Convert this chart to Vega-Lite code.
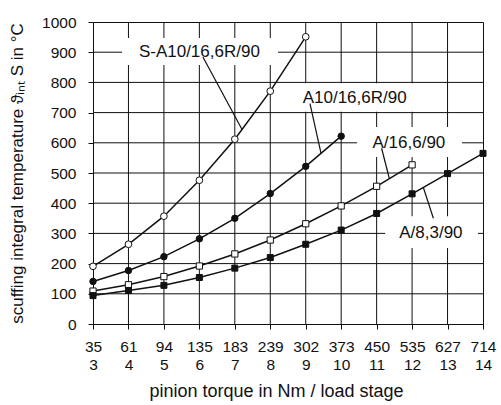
{
  "$schema": "https://vega.github.io/schema/vega-lite/v6.json",
  "width": 390,
  "height": 302,
  "autosize": "none",
  "padding": {"left": 93, "top": 22, "right": 18, "bottom": 81},
  "background": "white",
  "config": {
    "font": "Liberation Sans",
    "view": {"stroke": "#111", "strokeWidth": 1}
  },
  "datasets": {
    "curves": [
      {"series": "S-A10/16,6R/90", "stage": 3, "temp": 191},
      {"series": "S-A10/16,6R/90", "stage": 4, "temp": 264},
      {"series": "S-A10/16,6R/90", "stage": 5, "temp": 357},
      {"series": "S-A10/16,6R/90", "stage": 6, "temp": 476},
      {"series": "S-A10/16,6R/90", "stage": 7, "temp": 612},
      {"series": "S-A10/16,6R/90", "stage": 8, "temp": 771},
      {"series": "S-A10/16,6R/90", "stage": 9, "temp": 951},
      {"series": "A10/16,6R/90", "stage": 3, "temp": 141},
      {"series": "A10/16,6R/90", "stage": 4, "temp": 177},
      {"series": "A10/16,6R/90", "stage": 5, "temp": 223},
      {"series": "A10/16,6R/90", "stage": 6, "temp": 282},
      {"series": "A10/16,6R/90", "stage": 7, "temp": 350},
      {"series": "A10/16,6R/90", "stage": 8, "temp": 432},
      {"series": "A10/16,6R/90", "stage": 9, "temp": 522},
      {"series": "A10/16,6R/90", "stage": 10, "temp": 622},
      {"series": "A/16,6/90", "stage": 3, "temp": 109},
      {"series": "A/16,6/90", "stage": 4, "temp": 130},
      {"series": "A/16,6/90", "stage": 5, "temp": 157},
      {"series": "A/16,6/90", "stage": 6, "temp": 192},
      {"series": "A/16,6/90", "stage": 7, "temp": 232},
      {"series": "A/16,6/90", "stage": 8, "temp": 278},
      {"series": "A/16,6/90", "stage": 9, "temp": 332},
      {"series": "A/16,6/90", "stage": 10, "temp": 391},
      {"series": "A/16,6/90", "stage": 11, "temp": 456},
      {"series": "A/16,6/90", "stage": 12, "temp": 527},
      {"series": "A/8,3/90", "stage": 3, "temp": 94},
      {"series": "A/8,3/90", "stage": 4, "temp": 111},
      {"series": "A/8,3/90", "stage": 5, "temp": 128},
      {"series": "A/8,3/90", "stage": 6, "temp": 154},
      {"series": "A/8,3/90", "stage": 7, "temp": 185},
      {"series": "A/8,3/90", "stage": 8, "temp": 220},
      {"series": "A/8,3/90", "stage": 9, "temp": 264},
      {"series": "A/8,3/90", "stage": 10, "temp": 311},
      {"series": "A/8,3/90", "stage": 11, "temp": 366},
      {"series": "A/8,3/90", "stage": 12, "temp": 431},
      {"series": "A/8,3/90", "stage": 13, "temp": 498},
      {"series": "A/8,3/90", "stage": 14, "temp": 565}
    ],
    "grid": [
      {"stage": 4, "stage2": 4, "temp": 0, "temp2": 1000},
      {"stage": 5, "stage2": 5, "temp": 0, "temp2": 1000},
      {"stage": 6, "stage2": 6, "temp": 0, "temp2": 1000},
      {"stage": 7, "stage2": 7, "temp": 0, "temp2": 1000},
      {"stage": 8, "stage2": 8, "temp": 0, "temp2": 1000},
      {"stage": 9, "stage2": 9, "temp": 0, "temp2": 1000},
      {"stage": 10, "stage2": 10, "temp": 0, "temp2": 1000},
      {"stage": 11, "stage2": 11, "temp": 0, "temp2": 1000},
      {"stage": 12, "stage2": 12, "temp": 0, "temp2": 1000},
      {"stage": 13, "stage2": 13, "temp": 0, "temp2": 1000},
      {"stage": 3, "stage2": 14, "temp": 100, "temp2": 100},
      {"stage": 3, "stage2": 14, "temp": 200, "temp2": 200},
      {"stage": 3, "stage2": 14, "temp": 300, "temp2": 300},
      {"stage": 3, "stage2": 14, "temp": 400, "temp2": 400},
      {"stage": 3, "stage2": 14, "temp": 500, "temp2": 500},
      {"stage": 3, "stage2": 14, "temp": 600, "temp2": 600},
      {"stage": 3, "stage2": 14, "temp": 700, "temp2": 700},
      {"stage": 3, "stage2": 14, "temp": 800, "temp2": 800},
      {"stage": 3, "stage2": 14, "temp": 900, "temp2": 900}
    ],
    "labels": [
      {"label": "S-A10/16,6R/90", "stage": 6.0, "temp": 900},
      {"label": "A10/16,6R/90", "stage": 10.38, "temp": 750},
      {"label": "A/16,6/90", "stage": 11.91, "temp": 600},
      {"label": "A/8,3/90", "stage": 12.53, "temp": 300}
    ],
    "boxes": [
      {"label": "S-A10/16,6R/90", "stage": 3.82, "stage2": 8.22, "temp": 858, "temp2": 947},
      {"label": "A10/16,6R/90", "stage": 8.42, "stage2": 12.37, "temp": 703, "temp2": 797},
      {"label": "A/16,6/90", "stage": 10.45, "stage2": 13.41, "temp": 553, "temp2": 652},
      {"label": "A/8,3/90", "stage": 11.24, "stage2": 13.86, "temp": 252, "temp2": 357}
    ],
    "leaders": [
      {"label": "S-A10/16,6R/90", "stage": 6.1, "stage2": 7.2, "temp": 884, "temp2": 645},
      {"label": "A10/16,6R/90", "stage": 9.12, "stage2": 9.43, "temp": 730, "temp2": 566},
      {"label": "A/16,6/90", "stage": 11.14, "stage2": 11.36, "temp": 582, "temp2": 481},
      {"label": "A/8,3/90", "stage": 12.6, "stage2": 12.32, "temp": 350, "temp2": 451}
    ]
  },
  "encoding": {
    "x": {
      "field": "stage", "type": "quantitative",
      "scale": {"domain": [3, 14], "nice": false, "zero": false},
      "axis": {
        "grid": false,
        "domainColor": "#111",
        "tickColor": "#111",
        "tickSize": 5,
        "labelColor": "#111",
        "titleColor": "#111",
        "labelFont": "Liberation Sans",
        "titleFont": "Liberation Sans",
        "labelFontSize": 15.5,
        "titleFontSize": 18,
        "titleFontWeight": "normal",
        "labelOverlap": false,
        "labelFlush": false,
        "values": [3, 4, 5, 6, 7, 8, 9, 10, 11, 12, 13, 14],
        "title": "pinion torque in Nm / load stage",
        "titleX": 183,
        "titleY": 72,
        "titleAlign": "center",
        "titleBaseline": "alphabetic",
        "labelBaseline": "top",
        "labelPadding": 10,
        "labelLineHeight": 18.5,
        "labelExpr": "[['35','61','94','135','183','239','302','373','450','535','627','714'][datum.value - 3], '' + datum.value]"
      }
    },
    "y": {
      "field": "temp", "type": "quantitative",
      "scale": {"domain": [0, 1000], "nice": false, "zero": true},
      "axis": {
        "grid": false,
        "domainColor": "#111",
        "tickColor": "#111",
        "tickSize": 5,
        "labelColor": "#111",
        "titleColor": "#111",
        "labelFont": "Liberation Sans",
        "titleFont": "Liberation Sans",
        "labelFontSize": 15.5,
        "titleFontSize": 17,
        "titleFontWeight": "normal",
        "labelOverlap": false,
        "values": [0, 100, 200, 300, 400, 500, 600, 700, 800, 900, 1000],
        "format": "d",
        "title": "scuffing integral temperature ϑᵢₙₜ S in °C",
        "titleX": -71,
        "titleY": 151,
        "titleBaseline": "alphabetic",
        "titleAlign": "center",
        "labelPadding": 12
      }
    }
  },
  "layer": [
    {
      "data": {"name": "grid"},
      "mark": {"type": "rule", "color": "#111", "strokeWidth": 1},
      "encoding": {
        "x2": {"field": "stage2"},
        "y2": {"field": "temp2"}
      }
    },
    {
      "data": {"name": "curves"},
      "mark": {"type": "line", "strokeWidth": 1.5, "color": "#111"},
      "encoding": {
        "detail": {"field": "series"}
      }
    },
    {
      "data": {"name": "curves"},
      "mark": {"type": "point", "filled": true, "stroke": "#111", "strokeWidth": 1, "opacity": 1},
      "encoding": {
        "shape": {"field": "series", "type": "nominal", "legend": null,
          "scale": {"domain": ["S-A10/16,6R/90", "A10/16,6R/90", "A/16,6/90", "A/8,3/90"], "range": ["circle", "circle", "square", "square"]}},
        "fill": {"field": "series", "type": "nominal", "legend": null,
          "scale": {"domain": ["S-A10/16,6R/90", "A10/16,6R/90", "A/16,6/90", "A/8,3/90"], "range": ["white", "#111", "white", "#111"]}},
        "size": {"field": "series", "type": "nominal", "legend": null,
          "scale": {"domain": ["S-A10/16,6R/90", "A10/16,6R/90", "A/16,6/90", "A/8,3/90"], "range": [45, 36, 45, 45]}}
      }
    },
    {
      "data": {"name": "boxes"},
      "mark": {"type": "rect", "fill": "white", "stroke": null},
      "encoding": {
        "x2": {"field": "stage2"},
        "y2": {"field": "temp2"}
      }
    },
    {
      "data": {"name": "leaders"},
      "mark": {"type": "rule", "color": "#111", "strokeWidth": 1.2},
      "encoding": {
        "x2": {"field": "stage2"},
        "y2": {"field": "temp2"}
      }
    },
    {
      "data": {"name": "labels"},
      "mark": {"type": "text", "fontSize": 17, "font": "Liberation Sans", "color": "#111", "align": "center", "baseline": "middle"},
      "encoding": {
        "text": {"field": "label"}
      }
    }
  ]
}
